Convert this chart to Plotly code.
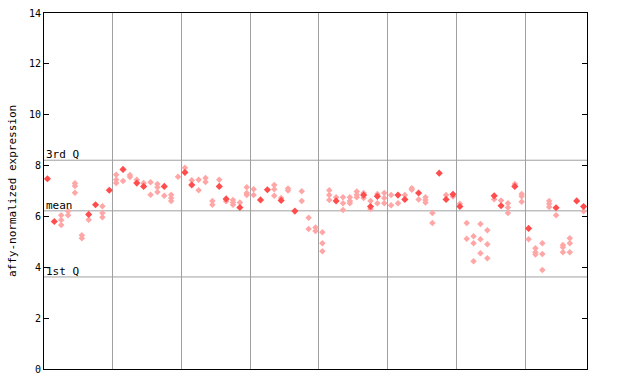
import plotly.graph_objects as go

# sample column index and expression values
solid_x = [0, 1, 6, 7, 9, 11, 13, 14, 17, 20, 21, 25, 26, 28, 31, 32, 34, 36, 42, 46, 47, 48,
           51, 52, 54, 57, 58, 59, 60, 65, 66, 68, 70, 74, 77, 78]
solid_y = [7.48, 5.80, 6.08, 6.46, 7.03, 7.85, 7.31, 7.18, 7.18, 7.73, 7.24, 7.18, 6.69, 6.35,
           6.65, 7.05, 6.63, 6.21, 6.61, 6.84, 6.39, 6.79, 6.84, 6.67, 6.92, 7.70, 6.67, 6.87,
           6.39, 6.81, 6.42, 7.18, 5.53, 6.34, 6.61, 6.39]

light_cols = {
    2: [6.05, 5.86, 5.66], 3: [6.20, 6.05], 4: [7.30, 7.20, 6.93], 5: [5.26, 5.14],
    6: [5.87], 8: [6.40, 6.13, 5.97], 10: [7.64, 7.44, 7.31], 11: [7.39], 12: [7.63, 7.55],
    13: [7.44], 14: [7.31], 15: [7.34, 6.85], 16: [7.28, 7.15, 6.96], 17: [6.81],
    18: [6.85, 6.72, 6.61], 19: [7.56], 20: [7.91], 21: [7.42], 22: [7.44, 7.03],
    23: [7.51, 7.35], 24: [6.61, 6.46], 25: [7.44], 26: [6.60], 27: [6.65, 6.55, 6.46],
    28: [6.55], 29: [7.15, 6.92, 6.84], 30: [7.07, 6.84], 33: [7.24, 7.07, 6.81],
    34: [6.72], 35: [7.10, 7.02], 37: [6.99, 6.61], 38: [5.95, 5.51], 39: [5.56, 5.43],
    40: [5.38, 4.95, 4.63], 41: [7.03, 6.84, 6.65], 42: [6.75], 43: [6.75, 6.52, 6.25],
    44: [6.75, 6.61, 6.52], 45: [6.98, 6.85, 6.75], 46: [6.92, 6.72], 47: [6.61, 6.29],
    48: [6.88, 6.52], 49: [6.92, 6.72, 6.52], 50: [6.84, 6.44], 51: [6.52], 52: [6.84],
    53: [7.11, 7.05], 54: [6.67], 55: [6.75, 6.65, 6.55], 56: [6.13, 5.74], 58: [6.84],
    59: [6.78], 60: [6.50], 61: [5.74, 5.12], 62: [5.22, 4.95, 4.24], 63: [5.70, 5.10, 4.55],
    64: [5.46, 4.91, 4.36], 65: [6.68], 66: [6.63], 67: [6.52, 6.35, 6.13], 68: [7.28],
    69: [6.88, 6.79, 6.58], 70: [5.10], 71: [4.75, 4.59, 4.50], 72: [4.95, 4.52, 3.89],
    73: [6.61, 6.50, 6.37], 74: [6.05], 75: [4.88, 4.79, 4.59], 76: [5.14, 4.95, 4.59],
    78: [6.20],
}

n_samples = 79
group_bounds = [9.5, 19.5, 29.5, 39.5, 49.5, 59.5, 69.5]
y_ticks = [0, 2, 4, 6, 8, 10, 12, 14]
q_lines = {"3rd Q": 8.21, "mean": 6.22, "1st Q": 3.62}
y_title = "affy-normalized expression"

light_x, light_y = [], []
for k, vals in light_cols.items():
    for v in vals:
        light_x.append(k)
        light_y.append(v)

fig = go.Figure()
fig.add_trace(go.Scatter(x=light_x, y=light_y, mode="markers",
                         marker=dict(symbol="diamond", size=5, color="#ffa6a6", line=dict(width=0)),
                         hoverinfo="y", showlegend=False))
fig.add_trace(go.Scatter(x=solid_x, y=solid_y, mode="markers",
                         marker=dict(symbol="diamond", size=5.5, color="#ff4d4d", line=dict(width=0)),
                         hoverinfo="y", showlegend=False))

for name, v in q_lines.items():
    fig.add_shape(type="line", xref="paper", x0=0, x1=1, yref="y", y0=v, y1=v,
                  line=dict(color="#a0a0a0", width=1), layer="below")
    fig.add_annotation(text=name, xref="paper", x=0, xanchor="left", yref="y", y=v,
                       yanchor="bottom", yshift=-3, showarrow=False,
                       font=dict(family="DejaVu Sans Mono", size=11, color="black"))

fig.add_annotation(text=y_title, xref="paper", x=0, xanchor="center", xshift=-32,
                   yref="paper", y=0.5, yanchor="middle", textangle=-90, showarrow=False,
                   font=dict(family="DejaVu Sans Mono", size=11, color="black"))

fig.update_xaxes(range=[-0.5, n_samples - 0.5], tickvals=group_bounds, showticklabels=False,
                 ticks="", showgrid=True, gridcolor="#a0a0a0", gridwidth=1, automargin=False,
                 showline=True, linecolor="black", linewidth=1, mirror=True, zeroline=False)
fig.update_yaxes(range=[0, 14], tickvals=y_ticks, ticks="inside", ticklen=5, tickcolor="black",
                 showgrid=False, zeroline=False, showline=True, linecolor="black", linewidth=1,
                 mirror="ticks", automargin=False,
                 tickfont=dict(family="DejaVu Sans Mono", size=10, color="black"))

fig.update_layout(width=640, height=384, margin=dict(l=44, r=53, t=13, b=15),
                  plot_bgcolor="white", paper_bgcolor="white", showlegend=False)

# remove the browser's default 8px body margin so the figure fills the window exactly
fig.write_html("out.html", config={"displayModeBar": False},
               post_script="document.body.style.margin='0';document.body.style.overflow='hidden';")
